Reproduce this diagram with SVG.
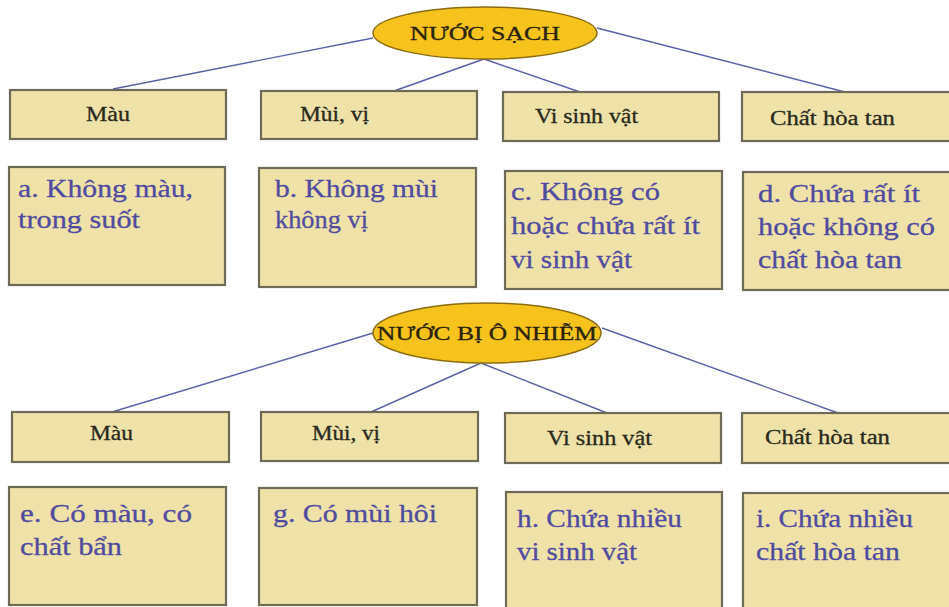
<svg xmlns="http://www.w3.org/2000/svg" width="949" height="607" viewBox="0 0 949 607">
<style>
.bg{fill:#ffffff}
.box{fill:#efe2a8;stroke:#6d6b57;stroke-width:2.2}
.ell{fill:#f6c21c;stroke:#8a6d10;stroke-width:1.5}
.conn line{stroke:#5a62a8;stroke-width:1.4;fill:none}
.hd{font-size:20px;fill:#2a2a1c;stroke:#2a2a1c;stroke-width:0.3}
.ttl{font-size:19px;fill:#2a230a;stroke:#2a230a;stroke-width:0.3}
.ct{font-size:26px;fill:#4f4ca0;stroke:#4f4ca0;stroke-width:0.3}
</style>
<rect class="bg" x="0" y="0" width="949" height="607"/>
<g id="connectors" class="conn">
<line x1="373" y1="38" x2="113" y2="89"/>
<line x1="484" y1="59" x2="394" y2="91"/>
<line x1="484" y1="59" x2="580" y2="92"/>
<line x1="597" y1="28" x2="845" y2="92"/>
<line x1="373" y1="333" x2="112" y2="412"/>
<line x1="481" y1="363" x2="371" y2="412"/>
<line x1="481" y1="363" x2="607" y2="413"/>
<line x1="602" y1="328" x2="838" y2="413"/>
</g>
<g font-family="Liberation Serif, Times New Roman, serif">
<g id="n-nuoc-sach">
<ellipse class="ell" cx="485" cy="33" rx="112" ry="26"/>
<text class="ttl" x="485" y="40" text-anchor="middle" textLength="150" lengthAdjust="spacingAndGlyphs">NƯỚC SẠCH</text>
</g>
<g id="n-mau-1"><rect class="box" x="10" y="90" width="216" height="49"/><text class="hd" x="86" y="121" textLength="44" lengthAdjust="spacingAndGlyphs">Màu</text></g>
<g id="n-muivi-1"><rect class="box" x="261" y="91" width="216" height="48"/><text class="hd" x="300" y="121" textLength="69" lengthAdjust="spacingAndGlyphs">Mùi, vị</text></g>
<g id="n-vsv-1"><rect class="box" x="503" y="92" width="216" height="49"/><text class="hd" x="535" y="123" textLength="103" lengthAdjust="spacingAndGlyphs">Vi sinh vật</text></g>
<g id="n-cht-1"><rect class="box" x="742" y="92" width="215" height="49"/><text class="hd" x="770" y="125" textLength="125" lengthAdjust="spacingAndGlyphs">Chất hòa tan</text></g>
<g id="n-a"><rect class="box" x="9" y="167" width="216" height="118"/>
<text class="ct" x="18" y="197" textLength="175" lengthAdjust="spacingAndGlyphs">a. Không màu,</text>
<text class="ct" x="18" y="228" textLength="122" lengthAdjust="spacingAndGlyphs">trong suốt</text></g>
<g id="n-b"><rect class="box" x="259" y="168" width="217" height="119"/>
<text class="ct" x="275" y="197" textLength="163" lengthAdjust="spacingAndGlyphs">b. Không mùi</text>
<text class="ct" x="275" y="228" textLength="93" lengthAdjust="spacingAndGlyphs">không vị</text></g>
<g id="n-c"><rect class="box" x="505" y="171" width="217" height="118"/>
<text class="ct" x="511" y="200" textLength="149" lengthAdjust="spacingAndGlyphs">c. Không có</text>
<text class="ct" x="511" y="234" textLength="189" lengthAdjust="spacingAndGlyphs">hoặc chứa rất ít</text>
<text class="ct" x="511" y="268" textLength="121" lengthAdjust="spacingAndGlyphs">vi sinh vật</text></g>
<g id="n-d"><rect class="box" x="743" y="172" width="215" height="118"/>
<text class="ct" x="758" y="202" textLength="162" lengthAdjust="spacingAndGlyphs">d. Chứa rất ít</text>
<text class="ct" x="758" y="235" textLength="177" lengthAdjust="spacingAndGlyphs">hoặc không có</text>
<text class="ct" x="758" y="268" textLength="144" lengthAdjust="spacingAndGlyphs">chất hòa tan</text></g>
<g id="n-nuoc-o-nhiem">
<ellipse class="ell" cx="487" cy="333" rx="114" ry="30"/>
<text class="ttl" x="487" y="340" text-anchor="middle" textLength="220" lengthAdjust="spacingAndGlyphs">NƯỚC BỊ Ô NHIỄM</text>
</g>
<g id="n-mau-2"><rect class="box" x="12" y="412" width="217" height="50"/><text class="hd" x="90" y="440" textLength="43" lengthAdjust="spacingAndGlyphs">Màu</text></g>
<g id="n-muivi-2"><rect class="box" x="261" y="412" width="217" height="49"/><text class="hd" x="312" y="440" textLength="68" lengthAdjust="spacingAndGlyphs">Mùi, vị</text></g>
<g id="n-vsv-2"><rect class="box" x="505" y="413" width="216" height="50"/><text class="hd" x="547" y="445" textLength="105" lengthAdjust="spacingAndGlyphs">Vi sinh vật</text></g>
<g id="n-cht-2"><rect class="box" x="742" y="413" width="215" height="50"/><text class="hd" x="765" y="444" textLength="125" lengthAdjust="spacingAndGlyphs">Chất hòa tan</text></g>
<g id="n-e"><rect class="box" x="9" y="487" width="217" height="118"/>
<text class="ct" x="20" y="522" textLength="172" lengthAdjust="spacingAndGlyphs">e. Có màu, có</text>
<text class="ct" x="20" y="555" textLength="102" lengthAdjust="spacingAndGlyphs">chất bẩn</text></g>
<g id="n-g"><rect class="box" x="259" y="488" width="218" height="117"/>
<text class="ct" x="273" y="522" textLength="164" lengthAdjust="spacingAndGlyphs">g. Có mùi hôi</text></g>
<g id="n-h"><rect class="box" x="506" y="492" width="216" height="130"/>
<text class="ct" x="517" y="527" textLength="165" lengthAdjust="spacingAndGlyphs">h. Chứa nhiều</text>
<text class="ct" x="517" y="560" textLength="120" lengthAdjust="spacingAndGlyphs">vi sinh vật</text></g>
<g id="n-i"><rect class="box" x="743" y="493" width="215" height="130"/>
<text class="ct" x="756" y="527" textLength="157" lengthAdjust="spacingAndGlyphs">i. Chứa nhiều</text>
<text class="ct" x="756" y="560" textLength="144" lengthAdjust="spacingAndGlyphs">chất hòa tan</text></g>
</g>
</svg>
